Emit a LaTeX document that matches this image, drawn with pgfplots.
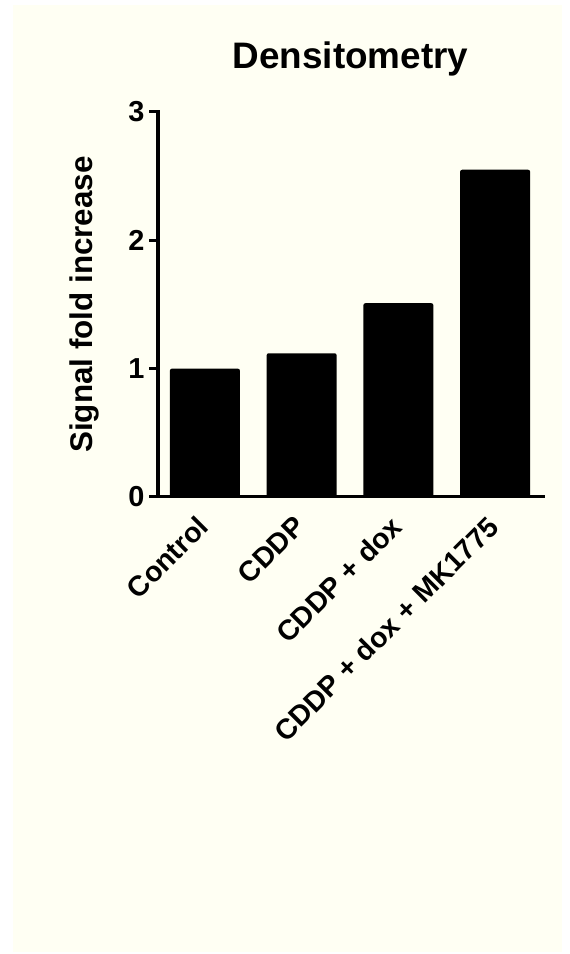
\documentclass[border=0pt]{standalone}
\usepackage{fontspec}
\setmainfont{Liberation Sans}
\usepackage{pgfplots}
\pgfplotsset{compat=1.18}
\definecolor{cream}{RGB}{255,255,243}
\begin{document}
\begin{tikzpicture}
\fill[white] (0,0) rectangle (570bp,954bp);
\fill[cream] (13bp,2bp) rectangle (562bp,949bp);
\begin{axis}[
  at={(158bp,457bp)}, anchor=south west,
  scale only axis, width=385bp, height=385bp,
  xmin=-0.485, xmax=3.495, ymin=0, ymax=3,
  axis lines*=left,
  axis line style={line width=3bp, line cap=rect},
  every tick/.style={line width=3bp, black},
  ytick={0,1,2,3}, tick align=outside, major tick length=9bp,
  xtick=data, xtick style={draw=none},
  xticklabels={Control, CDDP, CDDP + dox, CDDP + dox + MK1775},
  /pgf/number format/assume math mode=true,
  yticklabel style={font=\fontsize{29}{31}\selectfont\bfseries, xshift=-1bp},
  xticklabel style={font=\fontsize{28.5}{30}\selectfont\bfseries, rotate=45, anchor=north east, xshift=-9bp, yshift=4bp},
  title={Densitometry},
  title style={font=\fontsize{37}{40}\selectfont\bfseries, at={(0.5,1)}, anchor=south, yshift=26bp},
  ylabel={Signal fold increase},
  ylabel style={font=\fontsize{31.5}{34}\selectfont\bfseries, at={(axis description cs:-0.19,0.5)}, anchor=center},
  bar width=70bp,
]
\addplot[ybar, fill=black, draw=none, rounded corners=2bp] coordinates {(0,1.00) (1,1.12) (2,1.51) (3,2.55)};
\end{axis}
\end{tikzpicture}
\end{document}
